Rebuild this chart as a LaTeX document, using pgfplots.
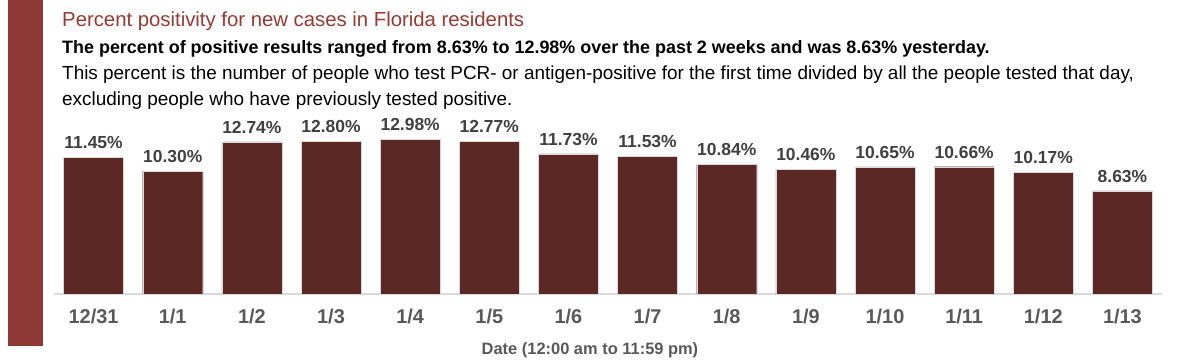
\documentclass[border=0pt]{standalone}
\usepackage{pgfplots}
\pgfplotsset{compat=1.18}
\usepackage{fontspec}
\setmainfont{Liberation Sans}
\definecolor{sidebar}{RGB}{141,56,52}
\definecolor{titlered}{RGB}{150,58,52}
\definecolor{barfill}{RGB}{92,40,37}
\definecolor{labgray}{RGB}{64,64,64}
\definecolor{tickgray}{RGB}{89,89,89}
\definecolor{axgray}{RGB}{217,217,217}
\begin{document}
\begin{tikzpicture}[x=1bp,y=1bp]
\path[use as bounding box] (0,0) rectangle (1200,360);
\fill[sidebar] (8,14) rectangle (43,360);
\node[anchor=base west, inner sep=0, text=titlered, font=\fontsize{20.4}{22}\selectfont] at (62,334) {Percent positivity for new cases in Florida residents};
\node[anchor=base west, inner sep=0, text=black, font=\fontsize{18}{20}\selectfont\bfseries] at (62,307) {The percent of positive results ranged from 8.63\% to 12.98\% over the past 2 weeks and was 8.63\% yesterday.};
\node[anchor=base west, inner sep=0, text=black, font=\fontsize{19}{20}\selectfont] at (62,281) {This percent is the number of people who test PCR- or antigen-positive for the first time divided by all the people tested that day,};
\node[anchor=base west, inner sep=0, text=black, font=\fontsize{19}{20}\selectfont] at (62,255) {excluding people who have previously tested positive.};
\begin{axis}[
  at={(54bp,66bp)}, anchor=south west,
  scale only axis, width=1108bp, height=179.1bp,
  xmin=-0.5, xmax=13.5, ymin=0, ymax=15,
  axis y line=none, axis x line*=bottom,
  x axis line style={draw=axgray, line width=1.2pt, -},
  xtick=data,
  xticklabels={12/31,1/1,1/2,1/3,1/4,1/5,1/6,1/7,1/8,1/9,1/10,1/11,1/12,1/13},
  major x tick style={draw=none},
  extra x ticks={-0.5,0.5,1.5,2.5,3.5,4.5,5.5,6.5,7.5,8.5,9.5,10.5,11.5,12.5,13.5},
  extra x tick labels={},
  extra x tick style={major tick length=7bp, tick style={draw=axgray, line width=1.2pt}, tick align=outside},
  xticklabel style={font=\fontsize{20}{22}\selectfont\bfseries, text=tickgray, yshift=-7bp},
  ybar, bar width=60bp,
  /pgf/number format/assume math mode=true,
  nodes near coords={\pgfmathprintnumber[fixed,fixed zerofill,precision=2,assume math mode=true]{\pgfplotspointmeta}\%},
  nodes near coords style={font=\fontsize{17.5}{20}\selectfont\bfseries, text=labgray, yshift=5bp},
  clip=false,
]
\addplot[fill=barfill, draw=black!15] coordinates {
(0,11.45) (1,10.30) (2,12.74) (3,12.80) (4,12.98) (5,12.77) (6,11.73)
(7,11.53) (8,10.84) (9,10.46) (10,10.65) (11,10.66) (12,10.17) (13,8.63)};
\end{axis}
\node[font=\fontsize{16.5}{20}\selectfont\bfseries, text=tickgray] at (590,10) {Date (12:00 am to 11:59 pm)};
\end{tikzpicture}
\end{document}
